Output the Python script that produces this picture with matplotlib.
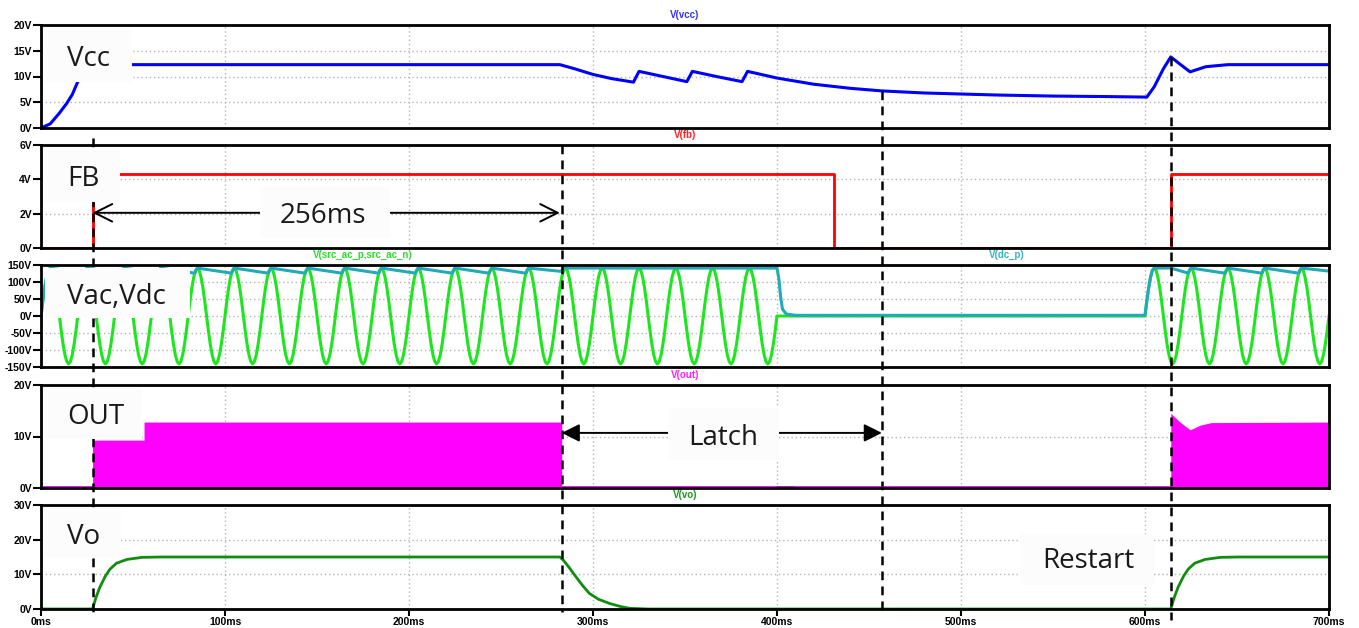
import matplotlib
matplotlib.use('Agg')
import matplotlib.pyplot as plt
import matplotlib.transforms as mtransforms
from matplotlib.lines import Line2D
from matplotlib.patches import Rectangle

# ---- data (time in ms, voltage in V) ----
vcc_t = [0, 5, 10, 14, 17, 20, 26, 32, 48, 150, 282, 290, 300, 310, 322, 325, 338, 351,
         354, 367, 381, 384, 400, 420, 440, 457, 480, 500, 520, 550, 580, 601, 605, 610,
         614, 619, 624.5, 633, 645, 700]
vcc_v = [0, 0.8, 2.9, 4.8, 6.5, 9.0, 11.5, 12.3, 12.3, 12.3, 12.3, 11.5, 10.4, 9.6, 8.9, 11.0, 10.0, 9.0,
         11.0, 10.0, 9.0, 11.0, 9.7, 8.5, 7.7, 7.2, 6.8, 6.6, 6.4, 6.2, 6.1, 6.0, 8.0, 11.5,
         13.8, 12.4, 10.9, 11.9, 12.3, 12.3]

fb_t = [0, 28, 28, 431, 431, 614, 614, 700]
fb_v = [0, 0, 4.3, 4.3, 0, 0, 4.3, 4.3]

# one 20 ms mains cycle, sampled every 1 ms
vac_cycle = [0, 44, 83, 114, 134, 141, 134, 114, 83, 44,
             0, -44, -83, -114, -134, -141, -134, -114, -83, -44]
vac_on = [(0, 400), (600, 700)]

# bulk capacitor voltage: charge peaks and ripple valleys
vdc_peak = 141
vdc_valley = 126
vdc_ripple_peaks_1 = [25, 45, 65, 85, 105, 125, 145, 165, 185, 205, 225, 245, 265]
vdc_ripple_peaks_2 = [625, 645, 665, 685]
vdc_t_drop = [400, 401, 402, 403, 405, 410, 600, 601, 602, 603, 604, 605, 614]
vdc_v_drop = [141, 110, 55, 20, 6, 2, 2, 44, 83, 114, 134, 141, 141]
vdc_end = 132

out_t = [0, 28, 28, 56, 56, 283, 283, 614, 614, 619, 624.5, 630, 636, 700]
out_top = [0, 0, 9.3, 9.3, 12.8, 12.8, 0, 0, 14.5, 12.8, 11.3, 12.2, 12.7, 12.8]
out_glitch_t = [400.5, 408.5]

vo_t = [0, 28, 30, 32, 35, 37.5, 41, 46.7, 55, 65, 282, 284, 287, 290, 294, 298, 303,
        309, 315, 320, 330, 614, 616, 618, 621, 623.5, 627, 632.7, 641, 651, 700]
vo_v = [0, 0, 3.5, 6.3, 9.5, 11.5, 13.2, 14.3, 14.9, 15, 15, 14, 12, 9.8, 7.0, 4.5, 2.8,
        1.6, 0.7, 0.2, 0, 0, 3.5, 6.3, 9.5, 11.5, 13.2, 14.3, 14.9, 15, 15]

x_ticks = [0, 100, 200, 300, 400, 500, 600, 700]
x_labels = ['0ms', '100ms', '200ms', '300ms', '400ms', '500ms', '600ms', '700ms']
vcc_ticks = [0, 5, 10, 15, 20]
fb_ticks = [0, 2, 4, 6]
vac_ticks = [-150, -100, -50, 0, 50, 100, 150]
out_ticks = [0, 10, 20]
vo_ticks = [0, 10, 20, 30]

marker_times = [28, 283, 457, 614]

# ---- build the repeated waveforms ----
vac_t, vac_v = [], []
for start, stop in vac_on:
    for k in range(start, stop):
        vac_t.append(k)
        vac_v.append(vac_cycle[k % 20])
    vac_t.append(stop)
    vac_v.append(0)

vdc_t = [0, 1, 2, 3, 4, 5]
vdc_v = [0, 44, 83, 114, 134, 141]
for p in vdc_ripple_peaks_1:
    vdc_t += [p - 1.5, p]
    vdc_v += [vdc_valley, vdc_peak]
vdc_t += [283, 283.5, 285]
vdc_v += [131, vdc_peak, vdc_peak]
vdc_t += vdc_t_drop
vdc_v += vdc_v_drop
for p in vdc_ripple_peaks_2:
    vdc_t += [p - 1.5, p]
    vdc_v += [vdc_valley, vdc_peak]
vdc_t.append(700)
vdc_v.append(vdc_end)

# ---- figure ----
W, H = 1359, 628
fig = plt.figure(figsize=(W / 100, H / 100), dpi=100)
fig.patch.set_facecolor('white')

left, width = 41 / W, 1288 / W
panel_px = [(25, 128), (145, 248), (265, 367), (385, 488), (505, 609)]
axes = []
for top, bot in panel_px:
    ax = fig.add_axes([left, 1 - bot / H, width, (bot - top) / H])
    axes.append(ax)
ax1, ax2, ax3, ax4, ax5 = axes

tick_font = dict(family='Liberation Sans', weight='bold', size=7.5)


def style_axis(ax, yticks, show_x=False):
    ax.set_xlim(0, 700)
    ax.set_ylim(yticks[0], yticks[-1])
    ax.set_yticks(yticks)
    ax.set_yticklabels(['%dV' % v for v in yticks], fontdict=tick_font)
    ax.set_xticks(x_ticks)
    if show_x:
        ax.set_xticklabels(x_labels, fontdict=tick_font)
        ax.tick_params(axis='x', length=5, width=1.5, pad=1)
    else:
        ax.tick_params(axis='x', length=0, labelbottom=False)
    ax.tick_params(axis='y', length=6, width=1.5, pad=0.5)
    ax.grid(True, color='#b5b5b5', linestyle=(0, (1, 2)), linewidth=1)
    ax.set_axisbelow(True)
    for s in ax.spines.values():
        s.set_linewidth(2)
        s.set_color('black')


def add_title(ax, text, color, xpos=0.5):
    tr = mtransforms.offset_copy(ax.transAxes, fig=fig, y=7, units='points')
    ax.text(xpos, 1, text, transform=tr, ha='center', va='center', color=color,
            fontsize=7, fontweight='bold', family='Liberation Sans', clip_on=False)


ax1.plot(vcc_t, vcc_v, color='#0000ff', lw=2.2)
style_axis(ax1, vcc_ticks)
add_title(ax1, 'V(vcc)', '#3333ff')

ax2.plot(fb_t, fb_v, color='#ff0000', lw=2)
style_axis(ax2, fb_ticks)
add_title(ax2, 'V(fb)', '#ff2020')

ax3.plot(vac_t, vac_v, color='#1ee61e', lw=2.2)
ax3.plot(vdc_t, vdc_v, color='#22aab8', lw=2.2)
style_axis(ax3, vac_ticks)
add_title(ax3, 'V(src_ac_p,src_ac_n)', '#2ddd2d', 0.25)
add_title(ax3, 'V(dc_p)', '#33b5c5', 0.75)

ax4.fill_between(out_t, 0, out_top, color='#ff00ff', lw=0)
ax4.plot([0, 700], [0, 0], color='#ff00ff', lw=2.8)
ax4.plot(out_glitch_t, [0, 0], color='black', lw=2.5)
style_axis(ax4, out_ticks)
add_title(ax4, 'V(out)', '#ff22ff')

ax5.plot(vo_t, vo_v, color='#118c11', lw=2)
style_axis(ax5, vo_ticks, show_x=True)
add_title(ax5, 'V(vo)', '#1a9a1a')

# arrows for the timing annotations
ax2.annotate('', xy=(28, 2.05), xytext=(282, 2.05),
             arrowprops=dict(arrowstyle='<->,head_length=0.7,head_width=0.35',
                             color='black', lw=1.4, shrinkA=0, shrinkB=0, mutation_scale=18))
ax4.annotate('', xy=(283, 10.7), xytext=(457, 10.7),
             arrowprops=dict(arrowstyle='<|-|>,head_length=0.6,head_width=0.3',
                             color='black', lw=1.4, shrinkA=0, shrinkB=0, mutation_scale=18))

# dashed marker lines (time from data, vertical extent in figure pixels)
marker_span_px = [(138, 612), (145, 612), (91, 612), (57, 620)]
blend = mtransforms.blended_transform_factory(ax5.transData, fig.transFigure)
for t, (y0, y1) in zip(marker_times, marker_span_px):
    fig.add_artist(Line2D([t, t], [1 - y0 / H, 1 - y1 / H], transform=blend,
                          color='black', lw=1.8, linestyle=(0, (3.5, 2.5)), zorder=0.5))

# white label boxes and labels
boxes_px = [(44, 30, 132, 82), (44, 150, 120, 202), (45, 268, 190, 318),
            (44, 388, 142, 439), (44, 508, 121, 557), (260, 187, 390, 238),
            (668, 408, 779, 460), (1020, 534, 1154, 585)]
for x0, y0, x1, y1 in boxes_px:
    fig.add_artist(Rectangle((x0 / W, 1 - y1 / H), (x1 - x0) / W, (y1 - y0) / H,
                             transform=fig.transFigure, facecolor='#fcfcfc',
                             edgecolor='none', zorder=1))

labels = ['Vcc', 'FB', 'Vac,Vdc', 'OUT', 'Vo', '256ms', 'Latch', 'Restart']
labels_px = [(67, 66), (67, 186), (67, 304), (67, 424), (67, 544), (280, 223), (688, 445), (1042, 568)]
for s, (x, y) in zip(labels, labels_px):
    fig.text(x / W, 1 - y / H, s, fontsize=20, family='Open Sans', color='#1a1a1a',
             ha='left', va='baseline', zorder=3)

fig.savefig('out.png', dpi=100, facecolor='white')
